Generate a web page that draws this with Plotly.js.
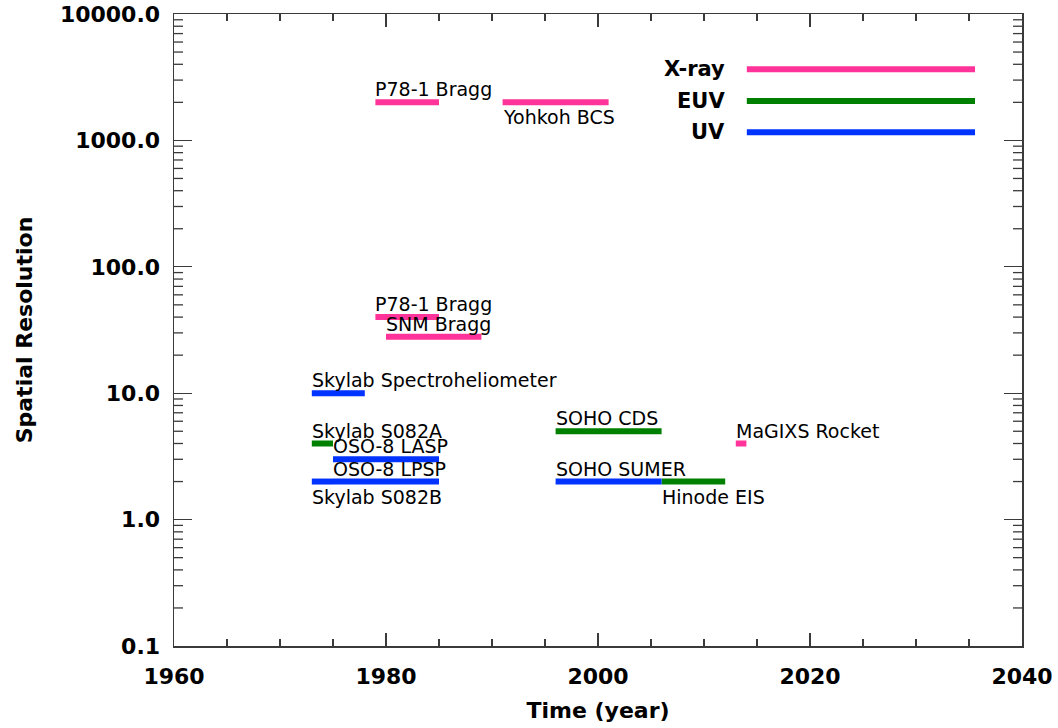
<!DOCTYPE html>
<html>
<head>
<meta charset="utf-8">
<script src="https://cdn.plot.ly/plotly-3.0.1.min.js"></script>
<style>html,body{margin:0;padding:0;background:#fff;}#chart{width:1058px;height:728px;}</style>
</head>
<body>
<div id="chart"></div>
<script>
// ---- data ----
const instruments = ['P78-1 Bragg','Yohkoh BCS','P78-1 Bragg','SNM Bragg','Skylab Spectroheliometer','Skylab S082A','OSO-8 LASP','OSO-8 LPSP','Skylab S082B','SOHO CDS','SOHO SUMER','Hinode EIS','MaGIXS Rocket'];
const startYear   = [1979, 1991, 1979, 1980, 1973, 1973, 1975, 1975, 1973, 1996, 1996, 2006, 2013];
const endYear     = [1985, 2001, 1985, 1989, 1978, 1975, 1985, 1985, 1975, 2006, 2006, 2012, 2014];
const resolution  = [2000, 2000, 40, 28, 10, 4, 3, 2, 2, 5, 2, 2, 4];
const band        = ['X-ray','X-ray','X-ray','X-ray','UV','EUV','UV','UV','UV','EUV','UV','EUV','X-ray'];
const labelSide   = ['above','below','above','above','above','above','above','above','below','above','above','below','above'];
const bands = ['X-ray','EUV','UV'];
const xTickVals = [1960, 1980, 2000, 2020, 2040];
const yTickVals = [0.1, 1, 10, 100, 1000, 10000];
const yTickText = ['0.1','1.0','10.0','100.0','1000.0','10000.0'];

// ---- styles ----
const bandColor = {'X-ray':'#ff3399','EUV':'#008000','UV':'#0033ff'};
const axisColor = '#3a3a3a';
const yLogMin = -1, yLogMax = 4;

const traces = bands.map(b => {
  const xs = [], ys = [];
  instruments.forEach((n,i) => {
    if (band[i] === b) { xs.push(startYear[i], endYear[i], null); ys.push(resolution[i], resolution[i], null); }
  });
  return {type:'scatter', mode:'lines', x:xs, y:ys, name:b, line:{color:bandColor[b], width:6}, hoverinfo:'skip', showlegend:false};
});

const annotations = instruments.map((n,i) => ({
  x:startYear[i], y:Math.log10(resolution[i]), xref:'x', yref:'y',
  text:n, showarrow:false, xanchor:'left',
  yanchor: labelSide[i]==='above' ? 'bottom' : 'top',
  yshift: labelSide[i]==='above' ? 0 : -2,
  xshift:-2,
  font:{family:'DejaVu Sans', size:19, color:'#000'}
}));

const shapes = [];
// minor ticks of the log axis (2..9 in every decade), left and right sides
const minorLen = 9 / 848;
for (let d = 0; d < yTickVals.length - 1; d++) {
  for (let m = 2; m <= 9; m++) {
    const py = (Math.log10(m * yTickVals[d]) - yLogMin) / (yLogMax - yLogMin);
    shapes.push({type:'line', xref:'paper', yref:'paper', x0:0, x1:minorLen, y0:py, y1:py, line:{color:axisColor, width:1.3}});
    shapes.push({type:'line', xref:'paper', yref:'paper', x0:1 - minorLen, x1:1, y0:py, y1:py, line:{color:axisColor, width:1.3}});
  }
}

const legY = [0.9126, 0.8625, 0.8130];
bands.forEach((b,k) => {
  shapes.push({type:'line', xref:'paper', yref:'paper', x0:0.6755, x1:0.9446, y0:legY[k], y1:legY[k], line:{color:bandColor[b], width:6}});
  annotations.push({xref:'paper', yref:'paper', x:0.6523, y:legY[k], text:b, showarrow:false, xanchor:'right', yanchor:'middle',
    font:{family:'DejaVu Sans', size:21, weight:'bold', color:'#000'}});
});

const tickFont = {family:'DejaVu Sans', size:22, weight:'bold', color:'#000'};

const layout = {
  width:1058, height:728,
  margin:{l:174, r:36, t:14, b:82, pad:0},
  paper_bgcolor:'#fff', plot_bgcolor:'#fff',
  showlegend:false,
  xaxis:{
    range:[1960, 2040], tickmode:'array', tickvals:xTickVals,
    ticks:'inside', ticklen:13, tickwidth:1.3, tickcolor:axisColor,
    showline:true, linecolor:axisColor, linewidth:1.5, mirror:'allticks',
    showgrid:false, zeroline:false,
    tickfont:tickFont, ticklabelstandoff:10,
    minor:{tickmode:'linear', tick0:1960, dtick:5, ticks:'inside', ticklen:7, tickwidth:1.3, tickcolor:axisColor, showgrid:false},
    title:{text:'Time (year)', font:{family:'DejaVu Sans', size:22, weight:'bold', color:'#000'}, standoff:14}
  },
  yaxis:{
    type:'log', range:[yLogMin, yLogMax], tickmode:'array', tickvals:yTickVals, ticktext:yTickText,
    ticks:'inside', ticklen:18, tickwidth:1.3, tickcolor:axisColor,
    showline:true, linecolor:axisColor, linewidth:1.5, mirror:'allticks',
    showgrid:false, zeroline:false,
    tickfont:tickFont, ticklabelstandoff:8,
    title:{text:'Spatial Resolution', font:{family:'DejaVu Sans', size:22, weight:'bold', color:'#000'}, standoff:21}
  },
  shapes:shapes,
  annotations:annotations
};

Plotly.newPlot('chart', traces, layout, {staticPlot:true, displayModeBar:false});
</script>
</body>
</html>
